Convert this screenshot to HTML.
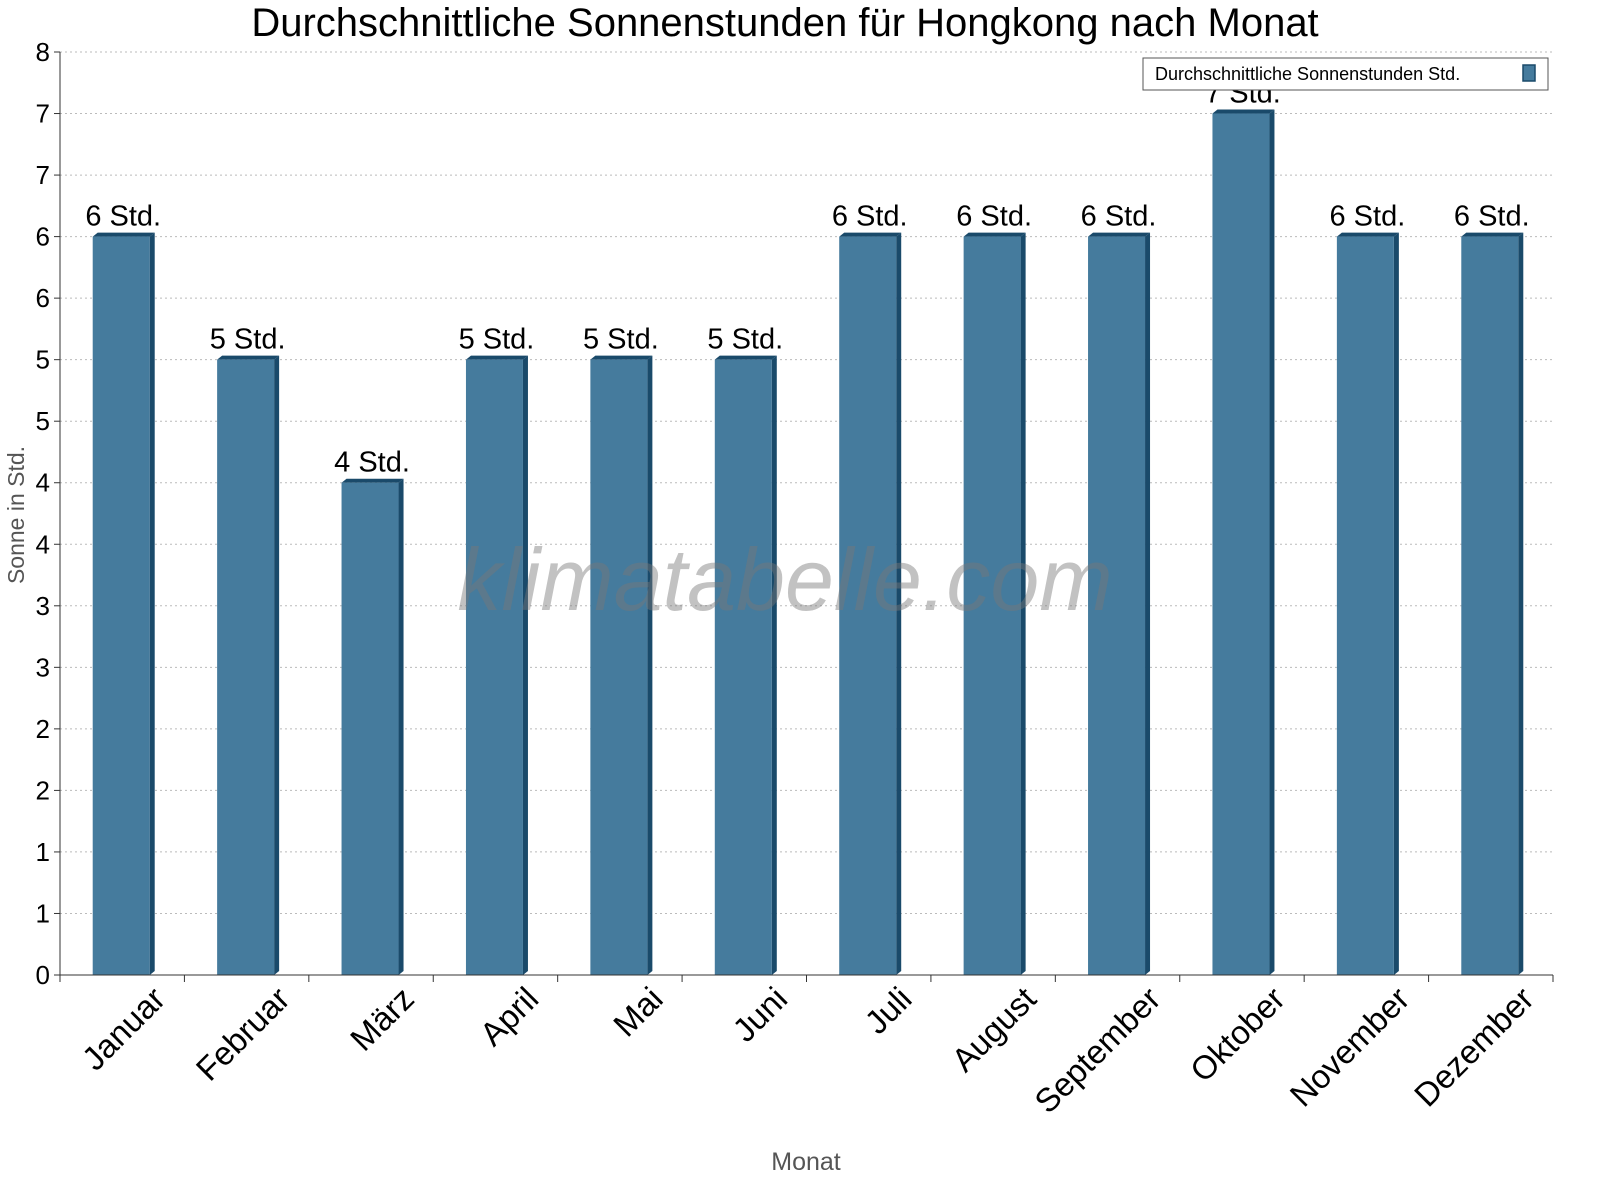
<!DOCTYPE html>
<html><head><meta charset="utf-8"><style>
body{margin:0;background:#fff;}
svg{display:block;font-family:"Liberation Sans",sans-serif;}
</style></head><body>
<svg id="chart" width="1600" height="1200" viewBox="0 0 1600 1200">
<rect width="1600" height="1200" fill="#fff"/>
<text x="785" y="36" font-size="40" text-anchor="middle" fill="#000">Durchschnittliche Sonnenstunden für Hongkong nach Monat</text>
<g id="grid"></g>
<g id="bars"></g>
<g id="axes"></g>
<text x="785" y="610" font-size="88" font-style="italic" text-anchor="middle" fill="#777" fill-opacity="0.45">klimatabelle.com</text>
<text x="806" y="1170" font-size="25" text-anchor="middle" fill="#555">Monat</text>
<text transform="translate(24,515) rotate(-90)" font-size="23" text-anchor="middle" fill="#555">Sonne in Std.</text>
<g>
<rect x="1143" y="58" width="405" height="32" fill="#fff" stroke="#555" stroke-width="1"/>
<text x="1155" y="80" font-size="18" fill="#000">Durchschnittliche Sonnenstunden Std.</text>
<rect x="1523" y="65" width="12" height="16" fill="#457b9d" stroke="#1a4a6a" stroke-width="1.5"/>
</g>
</svg>
<script>
const months=["Januar","Februar","März","April","Mai","Juni","Juli","August","September","Oktober","November","Dezember"];
const sunHours=[6,5,4,5,5,5,6,6,6,7,6,6];
const yTickValues=[0,0.5,1,1.5,2,2.5,3,3.5,4,4.5,5,5.5,6,6.5,7,7.5];
const yTickLabels=["0","1","1","2","2","3","3","4","4","5","5","6","6","7","7","8"];
const NS="http://www.w3.org/2000/svg";
const X0=60,X1=1553,Y0=975,Y1=52,YMAX=7.5;
const band=(X1-X0)/months.length;
function y(v){return Y0-(v/YMAX)*(Y0-Y1);}
function xc(i){return X0+band*(i+0.5);}
function mk(tag,attrs,parent){const e=document.createElementNS(NS,tag);for(const k in attrs)e.setAttribute(k,attrs[k]);parent.appendChild(e);return e;}
const grid=document.getElementById('grid'),bars=document.getElementById('bars'),axes=document.getElementById('axes');
yTickValues.forEach((v,i)=>{
  if(v>0){const l=mk('line',{x1:X0,x2:X1,y1:y(v),y2:y(v),stroke:'#bbb','stroke-dasharray':'2,3'},grid);
  
  }
  mk('line',{x1:X0-6,x2:X0,y1:y(v),y2:y(v),stroke:'#333'},axes);
  const t=mk('text',{x:X0-10,y:y(v)+9,'font-size':26,'text-anchor':'end',fill:'#000'},axes);
  t.textContent=yTickLabels[i];
  
  
});
mk('line',{x1:X0,x2:X0,y1:Y1,y2:Y0,stroke:'#333'},axes);
mk('line',{x1:X0,x2:X1,y1:Y0,y2:Y0,stroke:'#333'},axes);
for(let i=0;i<=months.length;i++){mk('line',{x1:X0+band*i,x2:X0+band*i,y1:Y0,y2:Y0+7,stroke:'#333'},axes);}
const bw=57,d=5;
sunHours.forEach((v,i)=>{
  const cx=xc(i)-1,x=cx-bw/2,top=y(v);
  const g=mk('g',{},bars);
  
  
  mk('polygon',{points:`${x+bw},${top} ${x+bw+d},${top-4} ${x+bw+d},${Y0-4} ${x+bw},${Y0}`,fill:'#1a4a6a'},g);
  mk('polygon',{points:`${x},${top} ${x+d},${top-4} ${x+bw+d},${top-4} ${x+bw},${top}`,fill:'#1a4a6a'},g);
  mk('rect',{x:x,y:top,width:bw,height:Y0-top,fill:'#457b9d'},g);
  const t=mk('text',{x:cx+2,y:top-11,'font-size':29,'text-anchor':'middle',fill:'#000'},bars);
  t.textContent=v+' Std.';
  
  
  const lx=xc(i)+45,ly=Y0+26;
  const m=mk('text',{x:lx,y:ly,'font-size':33,'text-anchor':'end',fill:'#000',transform:`rotate(-45 ${lx} ${ly})`},axes);
  m.textContent=months[i];
  
  
});
</script>
</body></html>
